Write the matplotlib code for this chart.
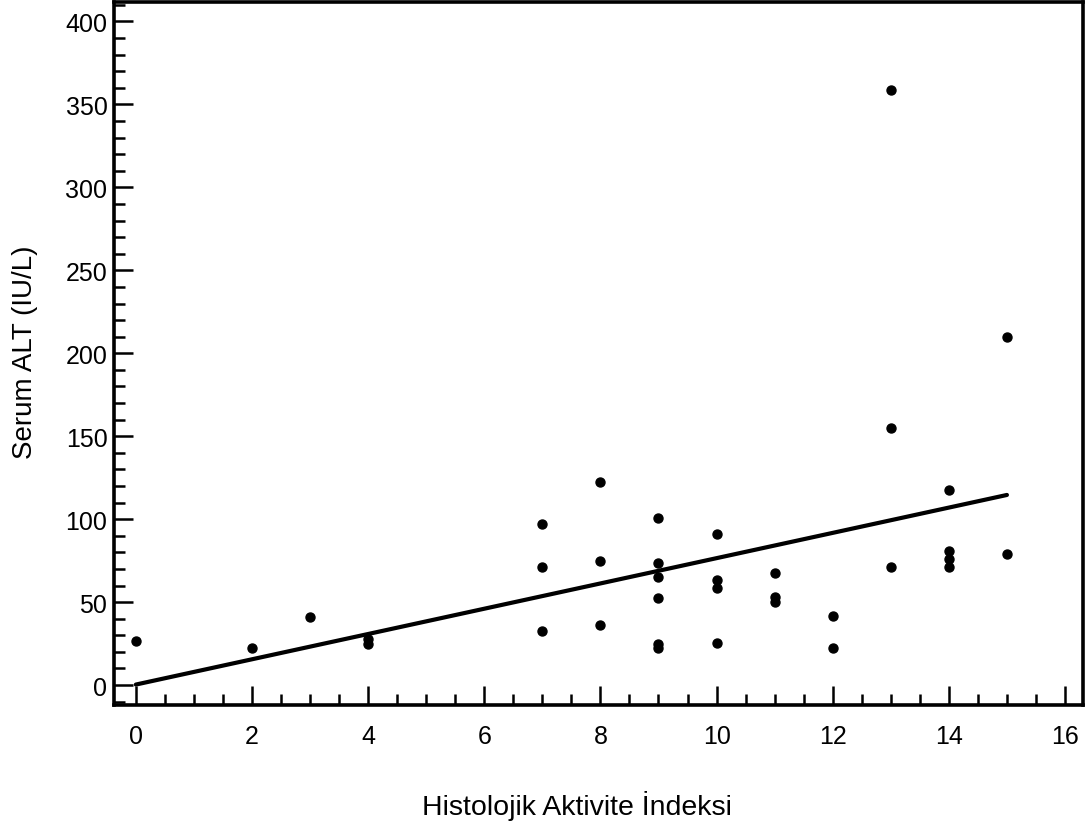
import numpy as np
import matplotlib.pyplot as plt
from matplotlib.ticker import MultipleLocator

plt.rcParams['font.family'] = ['Liberation Sans', 'DejaVu Sans']

# Histolojik aktivite indeksi (x) ve serum ALT (y)
hai = [0, 2, 3, 4, 4,
       7, 7, 7,
       8, 8, 8,
       9, 9, 9, 9, 9, 9,
       10, 10, 10, 10,
       11, 11, 11,
       12, 12,
       13, 13, 13,
       14, 14, 14, 14,
       15, 15]
alt = [26.5, 22.3, 41, 27.5, 24.7,
       97, 71, 32.3,
       122.3, 75, 36.5,
       100.5, 73.5, 65, 52.6, 25, 22.3,
       91.2, 63.4, 58.4, 25.5,
       67.7, 52.8, 49.8,
       41.6, 22.3,
       358.6, 155, 70.9,
       117.3, 80.9, 75.9, 70.9,
       209.6, 79.3]

# regresyon dogrusu
line_x = [0, 15]
intercept = 0.3
slope = 7.62

fig = plt.figure(figsize=(10.89, 8.29), dpi=100)
ax = fig.add_axes([0.105, 0.1484, 0.8895, 0.8483])

ax.scatter(hai, alt, s=42, color='black', zorder=3)
lx = np.array(line_x)
ax.plot(lx, intercept + slope * lx, color='black', lw=3, solid_capstyle='round')

ax.set_xlim(-0.37, 16.31)
ax.set_ylim(-12, 411.9)

ax.xaxis.set_major_locator(MultipleLocator(2))
ax.xaxis.set_minor_locator(MultipleLocator(0.5))
ax.yaxis.set_major_locator(MultipleLocator(50))
ax.yaxis.set_minor_locator(MultipleLocator(10))

for s in ax.spines.values():
    s.set_linewidth(2.6)

ax.tick_params(which='major', direction='in', length=13.5, width=1.8,
               labelsize=18)
ax.tick_params(which='minor', direction='in', length=8, width=1.8)
ax.tick_params(axis='x', which='major', pad=14)
ax.tick_params(axis='y', which='major', pad=5)

fig.text(25 / 1089, 1 - 352 / 829, 'Serum ALT (IU/L)', fontsize=20,
         rotation=90, ha='center', va='center')
fig.text(577 / 1089, 14 / 829, 'Histolojik Aktivite İndeksi',
         fontsize=20.5, ha='center', va='baseline')

fig.savefig('out.png', dpi=100)
